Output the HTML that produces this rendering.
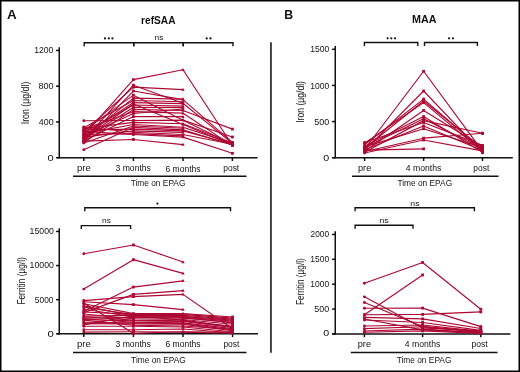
<!DOCTYPE html>
<html><head><meta charset="utf-8"><style>
html,body{margin:0;padding:0;background:#fff;}
svg{display:block;font-family:"Liberation Sans", sans-serif;}
</style></head><body>
<svg width="520" height="372" viewBox="0 0 520 372">
<rect width="520" height="372" fill="#fff"/>
<line x1="59.25" y1="47.30" x2="59.25" y2="158.35" stroke="#111" stroke-width="1.5"/>
<line x1="57.00" y1="157.70" x2="257.60" y2="157.70" stroke="#111" stroke-width="1.5"/>
<line x1="56.05" y1="157.70" x2="59.25" y2="157.70" stroke="#111" stroke-width="1.5"/>
<line x1="56.05" y1="121.95" x2="59.25" y2="121.95" stroke="#111" stroke-width="1.5"/>
<line x1="56.05" y1="86.20" x2="59.25" y2="86.20" stroke="#111" stroke-width="1.5"/>
<line x1="56.05" y1="50.45" x2="59.25" y2="50.45" stroke="#111" stroke-width="1.5"/>
<line x1="83.80" y1="157.70" x2="83.80" y2="161.00" stroke="#111" stroke-width="1.5"/>
<line x1="133.40" y1="157.70" x2="133.40" y2="161.00" stroke="#111" stroke-width="1.5"/>
<line x1="183.00" y1="157.70" x2="183.00" y2="161.00" stroke="#111" stroke-width="1.5"/>
<line x1="232.40" y1="157.70" x2="232.40" y2="161.00" stroke="#111" stroke-width="1.5"/>
<line x1="73.00" y1="176.30" x2="246.50" y2="176.30" stroke="#111" stroke-width="1.5"/>
<path d="M84.20 46.20 V42.80 H133.80 V46.20" fill="none" stroke="#111" stroke-width="1.4"/>
<circle cx="105.00" cy="38.40" r="1.1" fill="#111"/>
<circle cx="108.80" cy="38.40" r="1.1" fill="#111"/>
<circle cx="112.40" cy="38.40" r="1.1" fill="#111"/>
<path d="M133.80 46.20 V42.80 H183.20 V46.20" fill="none" stroke="#111" stroke-width="1.4"/>
<path d="M183.20 46.20 V42.80 H233.00 V46.20" fill="none" stroke="#111" stroke-width="1.4"/>
<circle cx="206.70" cy="38.40" r="1.1" fill="#111"/>
<circle cx="210.50" cy="38.40" r="1.1" fill="#111"/>
<path d="M83.80 135.36 L133.40 79.68 L183.00 69.75 L232.40 145.19" fill="none" stroke="#ad0834" stroke-width="1.15" stroke-linejoin="round"/>
<circle cx="83.80" cy="135.36" r="1.45" fill="#ad0834"/>
<rect x="132.00" y="78.28" width="2.8" height="2.8" fill="#ad0834"/>
<path d="M183.00 67.95 L184.70 70.95 L181.30 70.95Z" fill="#ad0834"/>
<rect x="231.00" y="143.79" width="2.8" height="2.8" fill="#ad0834"/>
<path d="M83.80 139.82 L133.40 85.22 L183.00 103.18 L232.40 143.40" fill="none" stroke="#ad0834" stroke-width="1.15" stroke-linejoin="round"/>
<circle cx="83.80" cy="139.82" r="1.45" fill="#ad0834"/>
<rect x="132.00" y="83.82" width="2.8" height="2.8" fill="#ad0834"/>
<path d="M183.00 101.38 L184.70 104.38 L181.30 104.38Z" fill="#ad0834"/>
<rect x="231.00" y="142.00" width="2.8" height="2.8" fill="#ad0834"/>
<path d="M83.80 131.78 L133.40 87.18 L183.00 89.60" fill="none" stroke="#ad0834" stroke-width="1.15" stroke-linejoin="round"/>
<circle cx="83.80" cy="131.78" r="1.45" fill="#ad0834"/>
<rect x="132.00" y="85.78" width="2.8" height="2.8" fill="#ad0834"/>
<path d="M183.00 87.80 L184.70 90.80 L181.30 90.80Z" fill="#ad0834"/>
<path d="M83.80 141.61 L133.40 91.03 L183.00 99.61 L232.40 142.33" fill="none" stroke="#ad0834" stroke-width="1.15" stroke-linejoin="round"/>
<circle cx="83.80" cy="141.61" r="1.45" fill="#ad0834"/>
<rect x="132.00" y="89.63" width="2.8" height="2.8" fill="#ad0834"/>
<path d="M183.00 97.81 L184.70 100.81 L181.30 100.81Z" fill="#ad0834"/>
<rect x="231.00" y="140.93" width="2.8" height="2.8" fill="#ad0834"/>
<path d="M83.80 130.89 L133.40 95.14 L183.00 120.16 L232.40 144.29" fill="none" stroke="#ad0834" stroke-width="1.15" stroke-linejoin="round"/>
<circle cx="83.80" cy="130.89" r="1.45" fill="#ad0834"/>
<rect x="132.00" y="93.74" width="2.8" height="2.8" fill="#ad0834"/>
<path d="M183.00 118.36 L184.70 121.36 L181.30 121.36Z" fill="#ad0834"/>
<rect x="231.00" y="142.89" width="2.8" height="2.8" fill="#ad0834"/>
<path d="M83.80 138.04 L133.40 98.09 L183.00 99.16" fill="none" stroke="#ad0834" stroke-width="1.15" stroke-linejoin="round"/>
<circle cx="83.80" cy="138.04" r="1.45" fill="#ad0834"/>
<rect x="132.00" y="96.69" width="2.8" height="2.8" fill="#ad0834"/>
<path d="M183.00 97.36 L184.70 100.36 L181.30 100.36Z" fill="#ad0834"/>
<path d="M83.80 127.76 L133.40 100.50 L183.00 101.75" fill="none" stroke="#ad0834" stroke-width="1.15" stroke-linejoin="round"/>
<circle cx="83.80" cy="127.76" r="1.45" fill="#ad0834"/>
<rect x="132.00" y="99.10" width="2.8" height="2.8" fill="#ad0834"/>
<path d="M183.00 99.95 L184.70 102.95 L181.30 102.95Z" fill="#ad0834"/>
<path d="M83.80 135.36 L133.40 102.56 L183.00 103.63" fill="none" stroke="#ad0834" stroke-width="1.15" stroke-linejoin="round"/>
<circle cx="83.80" cy="135.36" r="1.45" fill="#ad0834"/>
<rect x="132.00" y="101.16" width="2.8" height="2.8" fill="#ad0834"/>
<path d="M183.00 101.83 L184.70 104.83 L181.30 104.83Z" fill="#ad0834"/>
<path d="M83.80 132.67 L133.40 104.97 L183.00 106.13" fill="none" stroke="#ad0834" stroke-width="1.15" stroke-linejoin="round"/>
<circle cx="83.80" cy="132.67" r="1.45" fill="#ad0834"/>
<rect x="132.00" y="103.57" width="2.8" height="2.8" fill="#ad0834"/>
<path d="M183.00 104.33 L184.70 107.33 L181.30 107.33Z" fill="#ad0834"/>
<path d="M83.80 139.38 L133.40 107.20 L183.00 107.65" fill="none" stroke="#ad0834" stroke-width="1.15" stroke-linejoin="round"/>
<circle cx="83.80" cy="139.38" r="1.45" fill="#ad0834"/>
<rect x="132.00" y="105.80" width="2.8" height="2.8" fill="#ad0834"/>
<path d="M183.00 105.85 L184.70 108.85 L181.30 108.85Z" fill="#ad0834"/>
<path d="M83.80 142.51 L133.40 109.44 L183.00 110.51 L232.40 129.10" fill="none" stroke="#ad0834" stroke-width="1.15" stroke-linejoin="round"/>
<circle cx="83.80" cy="142.51" r="1.45" fill="#ad0834"/>
<rect x="132.00" y="108.04" width="2.8" height="2.8" fill="#ad0834"/>
<path d="M183.00 108.71 L184.70 111.71 L181.30 111.71Z" fill="#ad0834"/>
<rect x="231.00" y="127.70" width="2.8" height="2.8" fill="#ad0834"/>
<path d="M83.80 129.10 L133.40 111.67 L183.00 113.19 L232.40 145.63" fill="none" stroke="#ad0834" stroke-width="1.15" stroke-linejoin="round"/>
<circle cx="83.80" cy="129.10" r="1.45" fill="#ad0834"/>
<rect x="132.00" y="110.27" width="2.8" height="2.8" fill="#ad0834"/>
<path d="M183.00 111.39 L184.70 114.39 L181.30 114.39Z" fill="#ad0834"/>
<rect x="231.00" y="144.23" width="2.8" height="2.8" fill="#ad0834"/>
<path d="M83.80 136.25 L133.40 113.46 L183.00 108.99" fill="none" stroke="#ad0834" stroke-width="1.15" stroke-linejoin="round"/>
<circle cx="83.80" cy="136.25" r="1.45" fill="#ad0834"/>
<rect x="132.00" y="112.06" width="2.8" height="2.8" fill="#ad0834"/>
<path d="M183.00 107.19 L184.70 110.19 L181.30 110.19Z" fill="#ad0834"/>
<path d="M83.80 120.79 L133.40 120.52 L183.00 120.16 L232.40 137.05" fill="none" stroke="#ad0834" stroke-width="1.15" stroke-linejoin="round"/>
<circle cx="83.80" cy="120.79" r="1.45" fill="#ad0834"/>
<rect x="132.00" y="119.12" width="2.8" height="2.8" fill="#ad0834"/>
<path d="M183.00 118.36 L184.70 121.36 L181.30 121.36Z" fill="#ad0834"/>
<rect x="231.00" y="135.65" width="2.8" height="2.8" fill="#ad0834"/>
<path d="M83.80 140.72 L133.40 116.59 L183.00 116.68" fill="none" stroke="#ad0834" stroke-width="1.15" stroke-linejoin="round"/>
<circle cx="83.80" cy="140.72" r="1.45" fill="#ad0834"/>
<rect x="132.00" y="115.19" width="2.8" height="2.8" fill="#ad0834"/>
<path d="M183.00 114.88 L184.70 117.88 L181.30 117.88Z" fill="#ad0834"/>
<path d="M83.80 138.48 L133.40 104.07 L183.00 124.45 L232.40 145.01" fill="none" stroke="#ad0834" stroke-width="1.15" stroke-linejoin="round"/>
<circle cx="83.80" cy="138.48" r="1.45" fill="#ad0834"/>
<rect x="132.00" y="102.67" width="2.8" height="2.8" fill="#ad0834"/>
<path d="M183.00 122.65 L184.70 125.65 L181.30 125.65Z" fill="#ad0834"/>
<rect x="231.00" y="143.61" width="2.8" height="2.8" fill="#ad0834"/>
<path d="M83.80 133.57 L133.40 124.45 L183.00 127.22 L232.40 143.40" fill="none" stroke="#ad0834" stroke-width="1.15" stroke-linejoin="round"/>
<circle cx="83.80" cy="133.57" r="1.45" fill="#ad0834"/>
<rect x="132.00" y="123.05" width="2.8" height="2.8" fill="#ad0834"/>
<path d="M183.00 125.42 L184.70 128.42 L181.30 128.42Z" fill="#ad0834"/>
<rect x="231.00" y="142.00" width="2.8" height="2.8" fill="#ad0834"/>
<path d="M83.80 142.95 L133.40 125.97 L183.00 128.21" fill="none" stroke="#ad0834" stroke-width="1.15" stroke-linejoin="round"/>
<circle cx="83.80" cy="142.95" r="1.45" fill="#ad0834"/>
<rect x="132.00" y="124.57" width="2.8" height="2.8" fill="#ad0834"/>
<path d="M183.00 126.41 L184.70 129.41 L181.30 129.41Z" fill="#ad0834"/>
<path d="M83.80 149.66 L133.40 127.31 L183.00 129.81 L232.40 145.01" fill="none" stroke="#ad0834" stroke-width="1.15" stroke-linejoin="round"/>
<circle cx="83.80" cy="149.66" r="1.45" fill="#ad0834"/>
<rect x="132.00" y="125.91" width="2.8" height="2.8" fill="#ad0834"/>
<path d="M183.00 128.01 L184.70 131.01 L181.30 131.01Z" fill="#ad0834"/>
<rect x="231.00" y="143.61" width="2.8" height="2.8" fill="#ad0834"/>
<path d="M83.80 129.99 L133.40 129.10 L183.00 130.89 L232.40 144.29" fill="none" stroke="#ad0834" stroke-width="1.15" stroke-linejoin="round"/>
<circle cx="83.80" cy="129.99" r="1.45" fill="#ad0834"/>
<rect x="132.00" y="127.70" width="2.8" height="2.8" fill="#ad0834"/>
<path d="M183.00 129.09 L184.70 132.09 L181.30 132.09Z" fill="#ad0834"/>
<rect x="231.00" y="142.89" width="2.8" height="2.8" fill="#ad0834"/>
<path d="M83.80 137.14 L133.40 130.89 L183.00 132.41" fill="none" stroke="#ad0834" stroke-width="1.15" stroke-linejoin="round"/>
<circle cx="83.80" cy="137.14" r="1.45" fill="#ad0834"/>
<rect x="132.00" y="129.49" width="2.8" height="2.8" fill="#ad0834"/>
<path d="M183.00 130.61 L184.70 133.61 L181.30 133.61Z" fill="#ad0834"/>
<path d="M83.80 126.95 L133.40 132.23 L183.00 134.46 L232.40 144.29" fill="none" stroke="#ad0834" stroke-width="1.15" stroke-linejoin="round"/>
<circle cx="83.80" cy="126.95" r="1.45" fill="#ad0834"/>
<rect x="132.00" y="130.83" width="2.8" height="2.8" fill="#ad0834"/>
<path d="M183.00 132.66 L184.70 135.66 L181.30 135.66Z" fill="#ad0834"/>
<rect x="231.00" y="142.89" width="2.8" height="2.8" fill="#ad0834"/>
<path d="M83.80 134.46 L133.40 133.57 L183.00 135.89" fill="none" stroke="#ad0834" stroke-width="1.15" stroke-linejoin="round"/>
<circle cx="83.80" cy="134.46" r="1.45" fill="#ad0834"/>
<rect x="132.00" y="132.17" width="2.8" height="2.8" fill="#ad0834"/>
<path d="M183.00 134.09 L184.70 137.09 L181.30 137.09Z" fill="#ad0834"/>
<path d="M83.80 141.17 L133.40 139.47 L183.00 144.56" fill="none" stroke="#ad0834" stroke-width="1.15" stroke-linejoin="round"/>
<circle cx="83.80" cy="141.17" r="1.45" fill="#ad0834"/>
<rect x="132.00" y="138.07" width="2.8" height="2.8" fill="#ad0834"/>
<path d="M183.00 142.76 L184.70 145.76 L181.30 145.76Z" fill="#ad0834"/>
<path d="M83.80 131.33 L133.40 134.46 L183.00 137.14 L232.40 153.32" fill="none" stroke="#ad0834" stroke-width="1.15" stroke-linejoin="round"/>
<circle cx="83.80" cy="131.33" r="1.45" fill="#ad0834"/>
<rect x="132.00" y="133.06" width="2.8" height="2.8" fill="#ad0834"/>
<path d="M183.00 135.34 L184.70 138.34 L181.30 138.34Z" fill="#ad0834"/>
<rect x="231.00" y="151.92" width="2.8" height="2.8" fill="#ad0834"/>
<path d="M83.80 128.65 L133.40 122.40 L183.00 123.74 L232.40 142.95" fill="none" stroke="#ad0834" stroke-width="1.15" stroke-linejoin="round"/>
<circle cx="83.80" cy="128.65" r="1.45" fill="#ad0834"/>
<rect x="132.00" y="121.00" width="2.8" height="2.8" fill="#ad0834"/>
<path d="M183.00 121.94 L184.70 124.94 L181.30 124.94Z" fill="#ad0834"/>
<rect x="231.00" y="141.55" width="2.8" height="2.8" fill="#ad0834"/>
<line x1="335.25" y1="46.10" x2="335.25" y2="158.35" stroke="#111" stroke-width="1.5"/>
<line x1="332.30" y1="157.70" x2="512.80" y2="157.70" stroke="#111" stroke-width="1.5"/>
<line x1="332.05" y1="157.70" x2="335.25" y2="157.70" stroke="#111" stroke-width="1.5"/>
<line x1="332.05" y1="121.57" x2="335.25" y2="121.57" stroke="#111" stroke-width="1.5"/>
<line x1="332.05" y1="85.43" x2="335.25" y2="85.43" stroke="#111" stroke-width="1.5"/>
<line x1="332.05" y1="49.30" x2="335.25" y2="49.30" stroke="#111" stroke-width="1.5"/>
<line x1="364.60" y1="157.70" x2="364.60" y2="161.00" stroke="#111" stroke-width="1.5"/>
<line x1="423.60" y1="157.70" x2="423.60" y2="161.00" stroke="#111" stroke-width="1.5"/>
<line x1="482.50" y1="157.70" x2="482.50" y2="161.00" stroke="#111" stroke-width="1.5"/>
<line x1="352.00" y1="176.30" x2="498.50" y2="176.30" stroke="#111" stroke-width="1.5"/>
<path d="M364.40 45.90 V42.50 H417.80 V45.90" fill="none" stroke="#111" stroke-width="1.4"/>
<circle cx="387.60" cy="38.35" r="1.1" fill="#111"/>
<circle cx="391.30" cy="38.35" r="1.1" fill="#111"/>
<circle cx="395.10" cy="38.35" r="1.1" fill="#111"/>
<path d="M424.50 45.90 V42.50 H477.40 V45.90" fill="none" stroke="#111" stroke-width="1.4"/>
<circle cx="449.00" cy="38.35" r="1.1" fill="#111"/>
<circle cx="452.90" cy="38.35" r="1.1" fill="#111"/>
<path d="M364.60 149.24 L423.60 71.27 L482.50 151.20" fill="none" stroke="#ad0834" stroke-width="1.15" stroke-linejoin="round"/>
<circle cx="364.60" cy="149.24" r="1.45" fill="#ad0834"/>
<rect x="422.20" y="69.87" width="2.8" height="2.8" fill="#ad0834"/>
<rect x="481.10" y="149.80" width="2.8" height="2.8" fill="#ad0834"/>
<path d="M364.60 150.47 L423.60 91.00 L482.50 152.64" fill="none" stroke="#ad0834" stroke-width="1.15" stroke-linejoin="round"/>
<circle cx="364.60" cy="150.47" r="1.45" fill="#ad0834"/>
<rect x="422.20" y="89.60" width="2.8" height="2.8" fill="#ad0834"/>
<rect x="481.10" y="151.24" width="2.8" height="2.8" fill="#ad0834"/>
<path d="M364.60 144.69 L423.60 99.09 L482.50 149.75" fill="none" stroke="#ad0834" stroke-width="1.15" stroke-linejoin="round"/>
<circle cx="364.60" cy="144.69" r="1.45" fill="#ad0834"/>
<rect x="422.20" y="97.69" width="2.8" height="2.8" fill="#ad0834"/>
<rect x="481.10" y="148.35" width="2.8" height="2.8" fill="#ad0834"/>
<path d="M364.60 148.31 L423.60 100.97 L482.50 148.31" fill="none" stroke="#ad0834" stroke-width="1.15" stroke-linejoin="round"/>
<circle cx="364.60" cy="148.31" r="1.45" fill="#ad0834"/>
<rect x="422.20" y="99.57" width="2.8" height="2.8" fill="#ad0834"/>
<rect x="481.10" y="146.91" width="2.8" height="2.8" fill="#ad0834"/>
<path d="M364.60 143.25 L423.60 102.63 L482.50 151.56" fill="none" stroke="#ad0834" stroke-width="1.15" stroke-linejoin="round"/>
<circle cx="364.60" cy="143.25" r="1.45" fill="#ad0834"/>
<rect x="422.20" y="101.23" width="2.8" height="2.8" fill="#ad0834"/>
<rect x="481.10" y="150.16" width="2.8" height="2.8" fill="#ad0834"/>
<path d="M364.60 151.20 L423.60 110.44 L482.50 146.86" fill="none" stroke="#ad0834" stroke-width="1.15" stroke-linejoin="round"/>
<circle cx="364.60" cy="151.20" r="1.45" fill="#ad0834"/>
<rect x="422.20" y="109.04" width="2.8" height="2.8" fill="#ad0834"/>
<rect x="481.10" y="145.46" width="2.8" height="2.8" fill="#ad0834"/>
<path d="M364.60 146.14 L423.60 116.58 L482.50 152.28" fill="none" stroke="#ad0834" stroke-width="1.15" stroke-linejoin="round"/>
<circle cx="364.60" cy="146.14" r="1.45" fill="#ad0834"/>
<rect x="422.20" y="115.18" width="2.8" height="2.8" fill="#ad0834"/>
<rect x="481.10" y="150.88" width="2.8" height="2.8" fill="#ad0834"/>
<path d="M364.60 147.58 L423.60 118.82 L482.50 149.03" fill="none" stroke="#ad0834" stroke-width="1.15" stroke-linejoin="round"/>
<circle cx="364.60" cy="147.58" r="1.45" fill="#ad0834"/>
<rect x="422.20" y="117.42" width="2.8" height="2.8" fill="#ad0834"/>
<rect x="481.10" y="147.63" width="2.8" height="2.8" fill="#ad0834"/>
<path d="M364.60 152.28 L423.60 120.63 L482.50 133.27" fill="none" stroke="#ad0834" stroke-width="1.15" stroke-linejoin="round"/>
<circle cx="364.60" cy="152.28" r="1.45" fill="#ad0834"/>
<rect x="422.20" y="119.23" width="2.8" height="2.8" fill="#ad0834"/>
<rect x="481.10" y="131.87" width="2.8" height="2.8" fill="#ad0834"/>
<path d="M364.60 142.52 L423.60 122.51 L482.50 145.41" fill="none" stroke="#ad0834" stroke-width="1.15" stroke-linejoin="round"/>
<circle cx="364.60" cy="142.52" r="1.45" fill="#ad0834"/>
<rect x="422.20" y="121.11" width="2.8" height="2.8" fill="#ad0834"/>
<rect x="481.10" y="144.01" width="2.8" height="2.8" fill="#ad0834"/>
<path d="M364.60 149.75 L423.60 125.97 L482.50 150.47" fill="none" stroke="#ad0834" stroke-width="1.15" stroke-linejoin="round"/>
<circle cx="364.60" cy="149.75" r="1.45" fill="#ad0834"/>
<rect x="422.20" y="124.57" width="2.8" height="2.8" fill="#ad0834"/>
<rect x="481.10" y="149.07" width="2.8" height="2.8" fill="#ad0834"/>
<path d="M364.60 146.86 L423.60 128.72 L482.50 147.58" fill="none" stroke="#ad0834" stroke-width="1.15" stroke-linejoin="round"/>
<circle cx="364.60" cy="146.86" r="1.45" fill="#ad0834"/>
<rect x="422.20" y="127.32" width="2.8" height="2.8" fill="#ad0834"/>
<rect x="481.10" y="146.18" width="2.8" height="2.8" fill="#ad0834"/>
<path d="M364.60 151.56 L423.60 138.19 L482.50 133.27" fill="none" stroke="#ad0834" stroke-width="1.15" stroke-linejoin="round"/>
<circle cx="364.60" cy="151.56" r="1.45" fill="#ad0834"/>
<rect x="422.20" y="136.79" width="2.8" height="2.8" fill="#ad0834"/>
<rect x="481.10" y="131.87" width="2.8" height="2.8" fill="#ad0834"/>
<path d="M364.60 153.00 L423.60 139.99 L482.50 150.83" fill="none" stroke="#ad0834" stroke-width="1.15" stroke-linejoin="round"/>
<circle cx="364.60" cy="153.00" r="1.45" fill="#ad0834"/>
<rect x="422.20" y="138.59" width="2.8" height="2.8" fill="#ad0834"/>
<rect x="481.10" y="149.43" width="2.8" height="2.8" fill="#ad0834"/>
<path d="M364.60 150.11 L423.60 148.88" fill="none" stroke="#ad0834" stroke-width="1.15" stroke-linejoin="round"/>
<circle cx="364.60" cy="150.11" r="1.45" fill="#ad0834"/>
<rect x="422.20" y="147.48" width="2.8" height="2.8" fill="#ad0834"/>
<line x1="59.25" y1="228.30" x2="59.25" y2="334.45" stroke="#111" stroke-width="1.5"/>
<line x1="57.00" y1="333.80" x2="258.00" y2="333.80" stroke="#111" stroke-width="1.5"/>
<line x1="56.05" y1="333.80" x2="59.25" y2="333.80" stroke="#111" stroke-width="1.5"/>
<line x1="56.05" y1="299.68" x2="59.25" y2="299.68" stroke="#111" stroke-width="1.5"/>
<line x1="56.05" y1="265.57" x2="59.25" y2="265.57" stroke="#111" stroke-width="1.5"/>
<line x1="56.05" y1="231.45" x2="59.25" y2="231.45" stroke="#111" stroke-width="1.5"/>
<line x1="83.80" y1="333.80" x2="83.80" y2="337.10" stroke="#111" stroke-width="1.5"/>
<line x1="133.40" y1="333.80" x2="133.40" y2="337.10" stroke="#111" stroke-width="1.5"/>
<line x1="183.00" y1="333.80" x2="183.00" y2="337.10" stroke="#111" stroke-width="1.5"/>
<line x1="232.60" y1="333.80" x2="232.60" y2="337.10" stroke="#111" stroke-width="1.5"/>
<line x1="73.00" y1="352.40" x2="246.50" y2="352.40" stroke="#111" stroke-width="1.5"/>
<path d="M84.80 211.20 V207.80 H230.50 V211.20" fill="none" stroke="#111" stroke-width="1.4"/>
<circle cx="157.40" cy="203.60" r="1.1" fill="#111"/>
<path d="M81.30 229.00 V225.60 H130.60 V229.00" fill="none" stroke="#111" stroke-width="1.4"/>
<path d="M83.80 253.76 L133.40 244.96 L183.00 261.95" fill="none" stroke="#ad0834" stroke-width="1.15" stroke-linejoin="round"/>
<circle cx="83.80" cy="253.76" r="1.45" fill="#ad0834"/>
<rect x="132.00" y="243.56" width="2.8" height="2.8" fill="#ad0834"/>
<path d="M183.00 260.15 L184.70 263.15 L181.30 263.15Z" fill="#ad0834"/>
<path d="M83.80 289.08 L133.40 259.66 L183.00 273.37" fill="none" stroke="#ad0834" stroke-width="1.15" stroke-linejoin="round"/>
<circle cx="83.80" cy="289.08" r="1.45" fill="#ad0834"/>
<rect x="132.00" y="258.26" width="2.8" height="2.8" fill="#ad0834"/>
<path d="M183.00 271.57 L184.70 274.57 L181.30 274.57Z" fill="#ad0834"/>
<path d="M83.80 311.28 L133.40 287.06 L183.00 280.85" fill="none" stroke="#ad0834" stroke-width="1.15" stroke-linejoin="round"/>
<circle cx="83.80" cy="311.28" r="1.45" fill="#ad0834"/>
<rect x="132.00" y="285.66" width="2.8" height="2.8" fill="#ad0834"/>
<path d="M183.00 279.05 L184.70 282.05 L181.30 282.05Z" fill="#ad0834"/>
<path d="M83.80 312.65 L133.40 294.36 L183.00 290.61" fill="none" stroke="#ad0834" stroke-width="1.15" stroke-linejoin="round"/>
<circle cx="83.80" cy="312.65" r="1.45" fill="#ad0834"/>
<rect x="132.00" y="292.96" width="2.8" height="2.8" fill="#ad0834"/>
<path d="M183.00 288.81 L184.70 291.81 L181.30 291.81Z" fill="#ad0834"/>
<path d="M83.80 300.57 L133.40 296.61 L183.00 294.36 L232.60 328.82" fill="none" stroke="#ad0834" stroke-width="1.15" stroke-linejoin="round"/>
<circle cx="83.80" cy="300.57" r="1.45" fill="#ad0834"/>
<rect x="132.00" y="295.21" width="2.8" height="2.8" fill="#ad0834"/>
<path d="M183.00 292.56 L184.70 295.56 L181.30 295.56Z" fill="#ad0834"/>
<rect x="231.20" y="327.42" width="2.8" height="2.8" fill="#ad0834"/>
<path d="M83.80 301.73 L133.40 304.60 L183.00 309.58" fill="none" stroke="#ad0834" stroke-width="1.15" stroke-linejoin="round"/>
<circle cx="83.80" cy="301.73" r="1.45" fill="#ad0834"/>
<rect x="132.00" y="303.20" width="2.8" height="2.8" fill="#ad0834"/>
<path d="M183.00 307.78 L184.70 310.78 L181.30 310.78Z" fill="#ad0834"/>
<path d="M83.80 303.78 L133.40 313.67 L183.00 313.67 L232.60 317.01" fill="none" stroke="#ad0834" stroke-width="1.15" stroke-linejoin="round"/>
<circle cx="83.80" cy="303.78" r="1.45" fill="#ad0834"/>
<rect x="132.00" y="312.27" width="2.8" height="2.8" fill="#ad0834"/>
<path d="M183.00 311.87 L184.70 314.87 L181.30 314.87Z" fill="#ad0834"/>
<rect x="231.20" y="315.61" width="2.8" height="2.8" fill="#ad0834"/>
<path d="M83.80 307.19 L133.40 314.69 L183.00 314.35 L232.60 318.11" fill="none" stroke="#ad0834" stroke-width="1.15" stroke-linejoin="round"/>
<circle cx="83.80" cy="307.19" r="1.45" fill="#ad0834"/>
<rect x="132.00" y="313.29" width="2.8" height="2.8" fill="#ad0834"/>
<path d="M183.00 312.55 L184.70 315.55 L181.30 315.55Z" fill="#ad0834"/>
<rect x="231.20" y="316.71" width="2.8" height="2.8" fill="#ad0834"/>
<path d="M83.80 316.06 L133.40 315.38 L183.00 315.38 L232.60 319.13" fill="none" stroke="#ad0834" stroke-width="1.15" stroke-linejoin="round"/>
<circle cx="83.80" cy="316.06" r="1.45" fill="#ad0834"/>
<rect x="132.00" y="313.98" width="2.8" height="2.8" fill="#ad0834"/>
<path d="M183.00 313.58 L184.70 316.58 L181.30 316.58Z" fill="#ad0834"/>
<rect x="231.20" y="317.73" width="2.8" height="2.8" fill="#ad0834"/>
<path d="M83.80 305.82 L133.40 316.06 L183.00 316.40 L232.60 320.15" fill="none" stroke="#ad0834" stroke-width="1.15" stroke-linejoin="round"/>
<circle cx="83.80" cy="305.82" r="1.45" fill="#ad0834"/>
<rect x="132.00" y="314.66" width="2.8" height="2.8" fill="#ad0834"/>
<path d="M183.00 314.60 L184.70 317.60 L181.30 317.60Z" fill="#ad0834"/>
<rect x="231.20" y="318.75" width="2.8" height="2.8" fill="#ad0834"/>
<path d="M83.80 309.24 L133.40 316.74 L183.00 317.08 L232.60 321.18" fill="none" stroke="#ad0834" stroke-width="1.15" stroke-linejoin="round"/>
<circle cx="83.80" cy="309.24" r="1.45" fill="#ad0834"/>
<rect x="132.00" y="315.34" width="2.8" height="2.8" fill="#ad0834"/>
<path d="M183.00 315.28 L184.70 318.28 L181.30 318.28Z" fill="#ad0834"/>
<rect x="231.20" y="319.78" width="2.8" height="2.8" fill="#ad0834"/>
<path d="M83.80 318.11 L133.40 317.42 L183.00 318.11 L232.60 322.20" fill="none" stroke="#ad0834" stroke-width="1.15" stroke-linejoin="round"/>
<circle cx="83.80" cy="318.11" r="1.45" fill="#ad0834"/>
<rect x="132.00" y="316.02" width="2.8" height="2.8" fill="#ad0834"/>
<path d="M183.00 316.31 L184.70 319.31 L181.30 319.31Z" fill="#ad0834"/>
<rect x="231.20" y="320.80" width="2.8" height="2.8" fill="#ad0834"/>
<path d="M83.80 314.01 L133.40 318.79 L183.00 319.47 L232.60 324.25" fill="none" stroke="#ad0834" stroke-width="1.15" stroke-linejoin="round"/>
<circle cx="83.80" cy="314.01" r="1.45" fill="#ad0834"/>
<rect x="132.00" y="317.39" width="2.8" height="2.8" fill="#ad0834"/>
<path d="M183.00 317.67 L184.70 320.67 L181.30 320.67Z" fill="#ad0834"/>
<rect x="231.20" y="322.85" width="2.8" height="2.8" fill="#ad0834"/>
<path d="M83.80 316.74 L133.40 320.15 L183.00 320.84 L232.60 326.29" fill="none" stroke="#ad0834" stroke-width="1.15" stroke-linejoin="round"/>
<circle cx="83.80" cy="316.74" r="1.45" fill="#ad0834"/>
<rect x="132.00" y="318.75" width="2.8" height="2.8" fill="#ad0834"/>
<path d="M183.00 319.04 L184.70 322.04 L181.30 322.04Z" fill="#ad0834"/>
<rect x="231.20" y="324.89" width="2.8" height="2.8" fill="#ad0834"/>
<path d="M83.80 319.47 L133.40 320.84 L183.00 321.52 L232.60 327.32" fill="none" stroke="#ad0834" stroke-width="1.15" stroke-linejoin="round"/>
<circle cx="83.80" cy="319.47" r="1.45" fill="#ad0834"/>
<rect x="132.00" y="319.44" width="2.8" height="2.8" fill="#ad0834"/>
<path d="M183.00 319.72 L184.70 322.72 L181.30 322.72Z" fill="#ad0834"/>
<rect x="231.20" y="325.92" width="2.8" height="2.8" fill="#ad0834"/>
<path d="M83.80 318.79 L133.40 322.20 L183.00 322.88 L232.60 328.68" fill="none" stroke="#ad0834" stroke-width="1.15" stroke-linejoin="round"/>
<circle cx="83.80" cy="318.79" r="1.45" fill="#ad0834"/>
<rect x="132.00" y="320.80" width="2.8" height="2.8" fill="#ad0834"/>
<path d="M183.00 321.08 L184.70 324.08 L181.30 324.08Z" fill="#ad0834"/>
<rect x="231.20" y="327.28" width="2.8" height="2.8" fill="#ad0834"/>
<path d="M83.80 322.20 L133.40 322.88 L183.00 323.56 L232.60 329.71" fill="none" stroke="#ad0834" stroke-width="1.15" stroke-linejoin="round"/>
<circle cx="83.80" cy="322.20" r="1.45" fill="#ad0834"/>
<rect x="132.00" y="321.48" width="2.8" height="2.8" fill="#ad0834"/>
<path d="M183.00 321.76 L184.70 324.76 L181.30 324.76Z" fill="#ad0834"/>
<rect x="231.20" y="328.31" width="2.8" height="2.8" fill="#ad0834"/>
<path d="M83.80 323.56 L133.40 323.91 L183.00 324.25 L232.60 330.73" fill="none" stroke="#ad0834" stroke-width="1.15" stroke-linejoin="round"/>
<circle cx="83.80" cy="323.56" r="1.45" fill="#ad0834"/>
<rect x="132.00" y="322.51" width="2.8" height="2.8" fill="#ad0834"/>
<path d="M183.00 322.45 L184.70 325.45 L181.30 325.45Z" fill="#ad0834"/>
<rect x="231.20" y="329.33" width="2.8" height="2.8" fill="#ad0834"/>
<path d="M83.80 303.10 L133.40 333.25 L183.00 331.75 L232.60 332.44" fill="none" stroke="#ad0834" stroke-width="1.15" stroke-linejoin="round"/>
<circle cx="83.80" cy="303.10" r="1.45" fill="#ad0834"/>
<rect x="132.00" y="331.85" width="2.8" height="2.8" fill="#ad0834"/>
<path d="M183.00 329.95 L184.70 332.95 L181.30 332.95Z" fill="#ad0834"/>
<rect x="231.20" y="331.04" width="2.8" height="2.8" fill="#ad0834"/>
<path d="M83.80 326.29 L133.40 326.29 L183.00 326.98 L232.60 331.75" fill="none" stroke="#ad0834" stroke-width="1.15" stroke-linejoin="round"/>
<circle cx="83.80" cy="326.29" r="1.45" fill="#ad0834"/>
<rect x="132.00" y="324.89" width="2.8" height="2.8" fill="#ad0834"/>
<path d="M183.00 325.18 L184.70 328.18 L181.30 328.18Z" fill="#ad0834"/>
<rect x="231.20" y="330.35" width="2.8" height="2.8" fill="#ad0834"/>
<path d="M83.80 329.71 L133.40 329.71 L183.00 329.02 L232.60 332.78" fill="none" stroke="#ad0834" stroke-width="1.15" stroke-linejoin="round"/>
<circle cx="83.80" cy="329.71" r="1.45" fill="#ad0834"/>
<rect x="132.00" y="328.31" width="2.8" height="2.8" fill="#ad0834"/>
<path d="M183.00 327.22 L184.70 330.22 L181.30 330.22Z" fill="#ad0834"/>
<rect x="231.20" y="331.38" width="2.8" height="2.8" fill="#ad0834"/>
<path d="M83.80 332.09 L133.40 331.75 L183.00 332.09 L232.60 333.25" fill="none" stroke="#ad0834" stroke-width="1.15" stroke-linejoin="round"/>
<circle cx="83.80" cy="332.09" r="1.45" fill="#ad0834"/>
<rect x="132.00" y="330.35" width="2.8" height="2.8" fill="#ad0834"/>
<path d="M183.00 330.29 L184.70 333.29 L181.30 333.29Z" fill="#ad0834"/>
<rect x="231.20" y="331.85" width="2.8" height="2.8" fill="#ad0834"/>
<path d="M83.80 311.97 L133.40 314.35 L183.00 317.42 L232.60 322.88" fill="none" stroke="#ad0834" stroke-width="1.15" stroke-linejoin="round"/>
<circle cx="83.80" cy="311.97" r="1.45" fill="#ad0834"/>
<rect x="132.00" y="312.95" width="2.8" height="2.8" fill="#ad0834"/>
<path d="M183.00 315.62 L184.70 318.62 L181.30 318.62Z" fill="#ad0834"/>
<rect x="231.20" y="321.48" width="2.8" height="2.8" fill="#ad0834"/>
<path d="M83.80 324.93 L133.40 315.72 L183.00 320.15 L232.60 326.98" fill="none" stroke="#ad0834" stroke-width="1.15" stroke-linejoin="round"/>
<circle cx="83.80" cy="324.93" r="1.45" fill="#ad0834"/>
<rect x="132.00" y="314.32" width="2.8" height="2.8" fill="#ad0834"/>
<path d="M183.00 318.35 L184.70 321.35 L181.30 321.35Z" fill="#ad0834"/>
<rect x="231.20" y="325.58" width="2.8" height="2.8" fill="#ad0834"/>
<path d="M83.80 320.15 L133.40 325.27 L183.00 325.95 L232.60 329.36" fill="none" stroke="#ad0834" stroke-width="1.15" stroke-linejoin="round"/>
<circle cx="83.80" cy="320.15" r="1.45" fill="#ad0834"/>
<rect x="132.00" y="323.87" width="2.8" height="2.8" fill="#ad0834"/>
<path d="M183.00 324.15 L184.70 327.15 L181.30 327.15Z" fill="#ad0834"/>
<rect x="231.20" y="327.96" width="2.8" height="2.8" fill="#ad0834"/>
<line x1="335.25" y1="231.30" x2="335.25" y2="334.55" stroke="#111" stroke-width="1.5"/>
<line x1="332.00" y1="333.90" x2="510.40" y2="333.90" stroke="#111" stroke-width="1.5"/>
<line x1="332.05" y1="333.90" x2="335.25" y2="333.90" stroke="#111" stroke-width="1.5"/>
<line x1="332.05" y1="309.04" x2="335.25" y2="309.04" stroke="#111" stroke-width="1.5"/>
<line x1="332.05" y1="284.17" x2="335.25" y2="284.17" stroke="#111" stroke-width="1.5"/>
<line x1="332.05" y1="259.31" x2="335.25" y2="259.31" stroke="#111" stroke-width="1.5"/>
<line x1="332.05" y1="234.45" x2="335.25" y2="234.45" stroke="#111" stroke-width="1.5"/>
<line x1="364.40" y1="333.90" x2="364.40" y2="337.20" stroke="#111" stroke-width="1.5"/>
<line x1="422.60" y1="333.90" x2="422.60" y2="337.20" stroke="#111" stroke-width="1.5"/>
<line x1="480.80" y1="333.90" x2="480.80" y2="337.20" stroke="#111" stroke-width="1.5"/>
<line x1="350.80" y1="352.50" x2="497.50" y2="352.50" stroke="#111" stroke-width="1.5"/>
<path d="M355.10 211.20 V207.80 H474.40 V211.20" fill="none" stroke="#111" stroke-width="1.4"/>
<path d="M355.10 228.70 V225.30 H413.00 V228.70" fill="none" stroke="#111" stroke-width="1.4"/>
<path d="M364.40 283.18 L422.60 262.49 L480.80 309.19" fill="none" stroke="#ad0834" stroke-width="1.15" stroke-linejoin="round"/>
<circle cx="364.40" cy="283.18" r="1.45" fill="#ad0834"/>
<rect x="421.20" y="261.09" width="2.8" height="2.8" fill="#ad0834"/>
<rect x="479.40" y="307.79" width="2.8" height="2.8" fill="#ad0834"/>
<path d="M364.40 314.71 L422.60 274.93" fill="none" stroke="#ad0834" stroke-width="1.15" stroke-linejoin="round"/>
<circle cx="364.40" cy="314.71" r="1.45" fill="#ad0834"/>
<rect x="421.20" y="273.53" width="2.8" height="2.8" fill="#ad0834"/>
<path d="M364.40 296.85 L422.60 327.93 L480.80 330.92" fill="none" stroke="#ad0834" stroke-width="1.15" stroke-linejoin="round"/>
<circle cx="364.40" cy="296.85" r="1.45" fill="#ad0834"/>
<rect x="421.20" y="326.53" width="2.8" height="2.8" fill="#ad0834"/>
<rect x="479.40" y="329.52" width="2.8" height="2.8" fill="#ad0834"/>
<path d="M364.40 302.47 L422.60 326.44 L480.80 331.91" fill="none" stroke="#ad0834" stroke-width="1.15" stroke-linejoin="round"/>
<circle cx="364.40" cy="302.47" r="1.45" fill="#ad0834"/>
<rect x="421.20" y="325.04" width="2.8" height="2.8" fill="#ad0834"/>
<rect x="479.40" y="330.51" width="2.8" height="2.8" fill="#ad0834"/>
<path d="M364.40 308.29 L422.60 308.09 L480.80 326.59" fill="none" stroke="#ad0834" stroke-width="1.15" stroke-linejoin="round"/>
<circle cx="364.40" cy="308.29" r="1.45" fill="#ad0834"/>
<rect x="421.20" y="306.69" width="2.8" height="2.8" fill="#ad0834"/>
<rect x="479.40" y="325.19" width="2.8" height="2.8" fill="#ad0834"/>
<path d="M364.40 314.71 L422.60 314.41 L480.80 311.92" fill="none" stroke="#ad0834" stroke-width="1.15" stroke-linejoin="round"/>
<circle cx="364.40" cy="314.71" r="1.45" fill="#ad0834"/>
<rect x="421.20" y="313.01" width="2.8" height="2.8" fill="#ad0834"/>
<rect x="479.40" y="310.52" width="2.8" height="2.8" fill="#ad0834"/>
<path d="M364.40 317.34 L422.60 318.93 L480.80 328.48" fill="none" stroke="#ad0834" stroke-width="1.15" stroke-linejoin="round"/>
<circle cx="364.40" cy="317.34" r="1.45" fill="#ad0834"/>
<rect x="421.20" y="317.53" width="2.8" height="2.8" fill="#ad0834"/>
<rect x="479.40" y="327.08" width="2.8" height="2.8" fill="#ad0834"/>
<path d="M364.40 319.98 L422.60 322.46 L480.80 330.42" fill="none" stroke="#ad0834" stroke-width="1.15" stroke-linejoin="round"/>
<circle cx="364.40" cy="319.98" r="1.45" fill="#ad0834"/>
<rect x="421.20" y="321.06" width="2.8" height="2.8" fill="#ad0834"/>
<rect x="479.40" y="329.02" width="2.8" height="2.8" fill="#ad0834"/>
<path d="M364.40 326.04 L422.60 324.95 L480.80 331.41" fill="none" stroke="#ad0834" stroke-width="1.15" stroke-linejoin="round"/>
<circle cx="364.40" cy="326.04" r="1.45" fill="#ad0834"/>
<rect x="421.20" y="323.55" width="2.8" height="2.8" fill="#ad0834"/>
<rect x="479.40" y="330.01" width="2.8" height="2.8" fill="#ad0834"/>
<path d="M364.40 328.68 L422.60 326.79 L480.80 332.41" fill="none" stroke="#ad0834" stroke-width="1.15" stroke-linejoin="round"/>
<circle cx="364.40" cy="328.68" r="1.45" fill="#ad0834"/>
<rect x="421.20" y="325.39" width="2.8" height="2.8" fill="#ad0834"/>
<rect x="479.40" y="331.01" width="2.8" height="2.8" fill="#ad0834"/>
<path d="M364.40 331.02 L422.60 329.18 L480.80 332.91" fill="none" stroke="#ad0834" stroke-width="1.15" stroke-linejoin="round"/>
<circle cx="364.40" cy="331.02" r="1.45" fill="#ad0834"/>
<rect x="421.20" y="327.78" width="2.8" height="2.8" fill="#ad0834"/>
<rect x="479.40" y="331.51" width="2.8" height="2.8" fill="#ad0834"/>
<path d="M364.40 332.21 L422.60 330.92 L480.80 333.40" fill="none" stroke="#ad0834" stroke-width="1.15" stroke-linejoin="round"/>
<circle cx="364.40" cy="332.21" r="1.45" fill="#ad0834"/>
<rect x="421.20" y="329.52" width="2.8" height="2.8" fill="#ad0834"/>
<rect x="479.40" y="332.00" width="2.8" height="2.8" fill="#ad0834"/>
<path d="M364.40 318.98 L422.60 329.92 L480.80 332.66" fill="none" stroke="#ad0834" stroke-width="1.15" stroke-linejoin="round"/>
<circle cx="364.40" cy="318.98" r="1.45" fill="#ad0834"/>
<rect x="421.20" y="328.52" width="2.8" height="2.8" fill="#ad0834"/>
<rect x="479.40" y="331.26" width="2.8" height="2.8" fill="#ad0834"/>
<line x1="270.95" y1="42.30" x2="270.95" y2="352.70" stroke="#111" stroke-width="1.55"/>
<rect x="0" y="0" width="520" height="372" fill="none" stroke="#000" stroke-width="3.0"/>
<g style="filter:grayscale(1)"><text x="0" y="0" font-size="8.2" font-weight="normal" fill="#141414" transform="translate(47.45,160.51) scale(1.3443,1)">0</text>
<text x="38.78" y="124.72" font-size="8.2" font-weight="normal" fill="#141414" textLength="14.86" lengthAdjust="spacingAndGlyphs">400</text>
<text x="38.41" y="88.82" font-size="8.2" font-weight="normal" fill="#141414" textLength="15.17" lengthAdjust="spacingAndGlyphs">800</text>
<text x="34.20" y="53.00" font-size="8.2" font-weight="normal" fill="#141414" textLength="19.13" lengthAdjust="spacingAndGlyphs">1200</text>
<text x="76.93" y="171.19" font-size="8.2" font-weight="normal" fill="#141414" textLength="13.84" lengthAdjust="spacingAndGlyphs">pre</text>
<text x="115.54" y="171.33" font-size="8.2" font-weight="normal" fill="#141414" textLength="35.38" lengthAdjust="spacingAndGlyphs">3 months</text>
<text x="165.41" y="171.65" font-size="8.2" font-weight="normal" fill="#141414" textLength="35.18" lengthAdjust="spacingAndGlyphs">6 months</text>
<text x="223.23" y="171.44" font-size="8.2" font-weight="normal" fill="#141414" textLength="16.01" lengthAdjust="spacingAndGlyphs">post</text>
<text x="130.69" y="186.39" font-size="8.8" font-weight="normal" fill="#141414" textLength="54.68" lengthAdjust="spacingAndGlyphs">Time on EPAG</text>
<text x="0" y="0" font-size="10.0" font-weight="normal" fill="#141414" textLength="42.61" lengthAdjust="spacingAndGlyphs" transform="translate(29.47,124.28) rotate(-90)">Iron (µg/dl)</text>
<text x="154.44" y="40.46" font-size="7.8" font-weight="normal" fill="#141414" textLength="8.96" lengthAdjust="spacingAndGlyphs">ns</text>
<text x="0" y="0" font-size="8.2" font-weight="normal" fill="#141414" transform="translate(323.30,160.58) scale(1.3059,1)">0</text>
<text x="314.28" y="124.60" font-size="8.2" font-weight="normal" fill="#141414" textLength="14.94" lengthAdjust="spacingAndGlyphs">500</text>
<text x="310.29" y="88.51" font-size="8.2" font-weight="normal" fill="#141414" textLength="19.05" lengthAdjust="spacingAndGlyphs">1000</text>
<text x="310.29" y="51.59" font-size="8.2" font-weight="normal" fill="#141414" textLength="19.05" lengthAdjust="spacingAndGlyphs">1500</text>
<text x="357.96" y="171.23" font-size="8.2" font-weight="normal" fill="#141414" textLength="13.35" lengthAdjust="spacingAndGlyphs">pre</text>
<text x="405.81" y="171.35" font-size="8.2" font-weight="normal" fill="#141414" textLength="35.58" lengthAdjust="spacingAndGlyphs">4 months</text>
<text x="473.33" y="171.07" font-size="8.2" font-weight="normal" fill="#141414" textLength="15.99" lengthAdjust="spacingAndGlyphs">post</text>
<text x="397.41" y="186.40" font-size="8.8" font-weight="normal" fill="#141414" textLength="54.71" lengthAdjust="spacingAndGlyphs">Time on EPAG</text>
<text x="0" y="0" font-size="10.0" font-weight="normal" fill="#141414" textLength="41.75" lengthAdjust="spacingAndGlyphs" transform="translate(304.22,122.79) rotate(-90)">Iron (µg/dl)</text>
<text x="0" y="0" font-size="8.2" font-weight="normal" fill="#141414" transform="translate(47.60,336.64) scale(1.3857,1)">0</text>
<text x="34.88" y="302.56" font-size="8.2" font-weight="normal" fill="#141414" textLength="18.60" lengthAdjust="spacingAndGlyphs">5000</text>
<text x="29.63" y="268.29" font-size="8.2" font-weight="normal" fill="#141414" textLength="24.28" lengthAdjust="spacingAndGlyphs">10000</text>
<text x="29.63" y="234.47" font-size="8.2" font-weight="normal" fill="#141414" textLength="24.28" lengthAdjust="spacingAndGlyphs">15000</text>
<text x="76.93" y="347.29" font-size="8.2" font-weight="normal" fill="#141414" textLength="13.84" lengthAdjust="spacingAndGlyphs">pre</text>
<text x="115.54" y="347.43" font-size="8.2" font-weight="normal" fill="#141414" textLength="35.38" lengthAdjust="spacingAndGlyphs">3 months</text>
<text x="165.41" y="347.35" font-size="8.2" font-weight="normal" fill="#141414" textLength="35.18" lengthAdjust="spacingAndGlyphs">6 months</text>
<text x="223.40" y="347.49" font-size="8.2" font-weight="normal" fill="#141414" textLength="16.02" lengthAdjust="spacingAndGlyphs">post</text>
<text x="131.10" y="362.83" font-size="8.8" font-weight="normal" fill="#141414" textLength="54.67" lengthAdjust="spacingAndGlyphs">Time on EPAG</text>
<text x="0" y="0" font-size="10.0" font-weight="normal" fill="#141414" textLength="47.42" lengthAdjust="spacingAndGlyphs" transform="translate(24.58,304.61) rotate(-90)">Ferritin (µg/l)</text>
<text x="101.99" y="222.51" font-size="7.8" font-weight="normal" fill="#141414" textLength="8.90" lengthAdjust="spacingAndGlyphs">ns</text>
<text x="0" y="0" font-size="8.2" font-weight="normal" fill="#141414" transform="translate(323.23,336.41) scale(1.3037,1)">0</text>
<text x="314.22" y="311.63" font-size="8.2" font-weight="normal" fill="#141414" textLength="14.92" lengthAdjust="spacingAndGlyphs">500</text>
<text x="310.28" y="286.86" font-size="8.2" font-weight="normal" fill="#141414" textLength="18.85" lengthAdjust="spacingAndGlyphs">1000</text>
<text x="310.28" y="261.66" font-size="8.2" font-weight="normal" fill="#141414" textLength="18.85" lengthAdjust="spacingAndGlyphs">1500</text>
<text x="310.54" y="237.43" font-size="8.2" font-weight="normal" fill="#141414" textLength="18.53" lengthAdjust="spacingAndGlyphs">2000</text>
<text x="357.75" y="347.11" font-size="8.2" font-weight="normal" fill="#141414" textLength="13.27" lengthAdjust="spacingAndGlyphs">pre</text>
<text x="404.81" y="347.15" font-size="8.2" font-weight="normal" fill="#141414" textLength="35.58" lengthAdjust="spacingAndGlyphs">4 months</text>
<text x="471.56" y="347.26" font-size="8.2" font-weight="normal" fill="#141414" textLength="16.21" lengthAdjust="spacingAndGlyphs">post</text>
<text x="396.69" y="362.59" font-size="8.8" font-weight="normal" fill="#141414" textLength="54.68" lengthAdjust="spacingAndGlyphs">Time on EPAG</text>
<text x="0" y="0" font-size="10.0" font-weight="normal" fill="#141414" textLength="46.91" lengthAdjust="spacingAndGlyphs" transform="translate(304.25,305.12) rotate(-90)">Ferritin (µg/l)</text>
<text x="410.31" y="205.54" font-size="7.8" font-weight="normal" fill="#141414" textLength="9.24" lengthAdjust="spacingAndGlyphs">ns</text>
<text x="379.20" y="222.61" font-size="7.8" font-weight="normal" fill="#141414" textLength="9.67" lengthAdjust="spacingAndGlyphs">ns</text>
<text x="0" y="0" font-size="12" font-weight="bold" fill="#111" transform="translate(7.10,18.74) scale(1.1192,1)">A</text>
<text x="0" y="0" font-size="12" font-weight="bold" fill="#111" transform="translate(284.15,19.04) scale(1.0239,1)">B</text>
<text x="141.13" y="23.80" font-size="10" font-weight="bold" fill="#111" textLength="34.37" lengthAdjust="spacingAndGlyphs">refSAA</text>
<text x="411.94" y="22.70" font-size="10" font-weight="bold" fill="#111" textLength="24.54" lengthAdjust="spacingAndGlyphs">MAA</text></g>
</svg></body></html>
